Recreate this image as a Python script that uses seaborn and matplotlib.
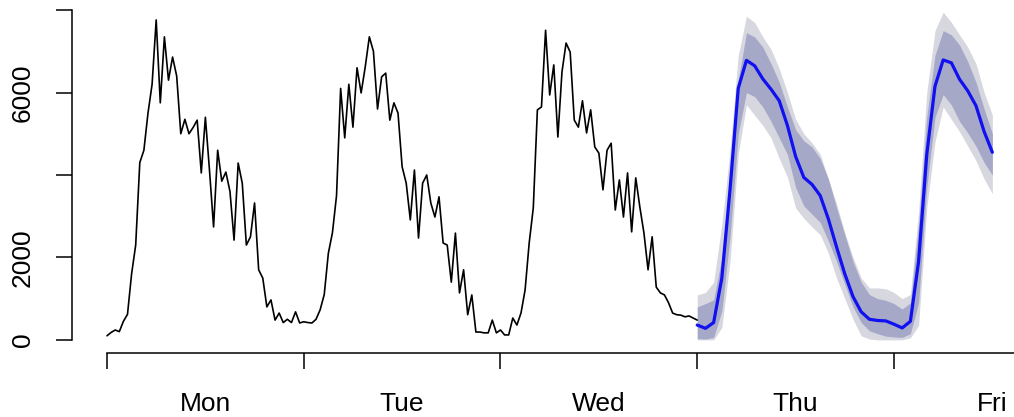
import numpy as np
import pandas as pd
import matplotlib
matplotlib.use("Agg")
import matplotlib.pyplot as plt
import seaborn as sns

# half-hourly observations, Mon 00:00 -> Thu 00:00
mon = [100, 180, 240, 200, 450, 620, 1600, 2300, 4300, 4600, 5500, 6200, 7760, 5750, 7350, 6300,
       6860, 6400, 5000, 5350, 5000, 5150, 5330, 4050, 5400, 4120, 2740, 4600, 3850, 4070, 3600, 2420,
       4290, 3800, 2300, 2500, 3320, 1700, 1500, 800, 970, 480, 650, 420, 500, 420, 680, 410]
tue = [440, 420, 410, 500, 730, 1100, 2100, 2600, 3500, 6100, 4900, 6200, 5160, 6600, 5990, 6620,
       7350, 7000, 5600, 6380, 6470, 5330, 5750, 5500, 4200, 3800, 2910, 4120, 2470, 3800, 4000, 3320,
       2980, 3470, 2350, 2300, 1400, 2590, 1140, 1700, 610, 1090, 190, 190, 170, 170, 480, 170]
wed = [240, 120, 120, 530, 360, 650, 1210, 2350, 3200, 5580, 5650, 7510, 5940, 6670, 4920, 6500,
       7200, 6980, 5330, 5160, 5800, 5020, 5580, 4680, 4530, 3640, 4600, 4770, 3150, 3880, 2980, 4050,
       2620, 3930, 3220, 2590, 1700, 2500, 1280, 1140, 1090, 900, 650, 610, 600, 560, 580, 530, 480]

# hourly forecast from Thu 00:00
fc_mean = [360, 280, 420, 1500, 3650, 6100, 6780, 6650, 6330, 6080, 5800, 5200, 4450, 3940, 3770, 3500,
           2930, 2250, 1600, 1050, 680, 500, 470, 460, 380, 290, 450, 1900, 4500, 6150, 6790, 6720,
           6320, 6040, 5680, 5050, 4550]
hi80 = [800, 880, 970, 2000, 3950, 6300, 7450, 7350, 7100, 6700, 6250, 5650, 5100, 4830, 4680, 4400,
        3900, 3200, 2550, 1900, 1400, 1100, 1000, 960, 880, 750, 900, 2800, 5400, 6900, 7500, 7400,
        7150, 6750, 6250, 5600, 5000]
hi95 = [1090, 1150, 1400, 2800, 4600, 6900, 7850, 7700, 7350, 7050, 6580, 6000, 5350, 5000, 4780, 4500,
        3900, 3300, 2600, 2000, 1500, 1260, 1260, 1240, 1150, 1000, 1100, 3100, 6000, 7500, 7950, 7700,
        7400, 7100, 6700, 6000, 5450]
lo80 = [30, 20, 60, 700, 2500, 5000, 6000, 5900, 5650, 5300, 4900, 4500, 3700, 3250, 3050, 2850,
        2400, 1900, 1350, 800, 420, 220, 150, 90, 70, 60, 150, 900, 3700, 5400, 5950, 5700,
        5300, 5020, 4700, 4300, 4000]
lo95 = [0, 0, 0, 300, 1900, 4500, 5700, 5450, 5200, 4900, 4400, 3950, 3200, 2950, 2740, 2550,
        2100, 1500, 1000, 500, 100, 20, 0, 0, 0, 0, 50, 350, 3200, 4800, 5650, 5350,
        5050, 4700, 4350, 3900, 3550]

days = ["Mon", "Tue", "Wed", "Thu", "Fri"]

sns.set_style("white")
plt.rcParams['font.family'] = ['Liberation Sans', 'DejaVu Sans']

hist = pd.DataFrame({"t": np.arange(len(mon + tue + wed)) / 48, "y": mon + tue + wed})
fc = pd.DataFrame({"t": 3 + np.arange(len(fc_mean)) / 24, "y": fc_mean,
                   "lo80": lo80, "hi80": hi80, "lo95": lo95, "hi95": hi95})

fig = plt.figure(figsize=(10.14, 4.17), dpi=100)
# axes run to the right edge of the figure, as in the cropped original
ax = fig.add_axes([0.0706, 0.1535, 0.9294, 0.8465])

ax.fill_between(fc["t"], fc["lo95"], fc["hi95"], color="#D7D7E0", lw=0)
ax.fill_between(fc["t"], fc["lo80"], fc["hi80"], color="#A6A8C8", lw=0)
sns.lineplot(data=hist, x="t", y="y", ax=ax, color="black", lw=1.2)
sns.lineplot(data=fc, x="t", y="y", ax=ax, color="#1010F0", lw=2.3)

xmax = 4.61
ax.set_xlim(-0.18, xmax)
ax.set_ylim(-318, 8244)
ax.set_xlabel("")
ax.set_ylabel("")

ax.set_xticks(range(5))
ax.set_xticklabels([""] * 5)
ax.set_xticks(np.arange(len(days)) + 0.5, minor=True)
ax.set_xticklabels(days, minor=True)
ax.tick_params(axis="x", which="major", bottom=True, length=11.5, width=1.1, direction="out", color="black")
ax.tick_params(axis="x", which="minor", bottom=True, length=0, pad=28, labelsize=19, labelcolor="black")

ax.set_yticks([0, 2000, 4000, 6000, 8000])
ax.set_yticklabels(["0", "2000", "", "6000", ""], rotation=90, va="center")
ax.tick_params(axis="y", left=True, length=11.5, width=1.1, direction="out", color="black", pad=15,
               labelsize=19, labelcolor="black")

sns.despine(ax=ax)
ax.spines["left"].set_bounds(0, 8000)
ax.spines["bottom"].set_bounds(0, xmax)
for s in ["left", "bottom"]:
    ax.spines[s].set_linewidth(1.1)
    ax.spines[s].set_color("black")

fig.savefig("out.png", dpi=100)
